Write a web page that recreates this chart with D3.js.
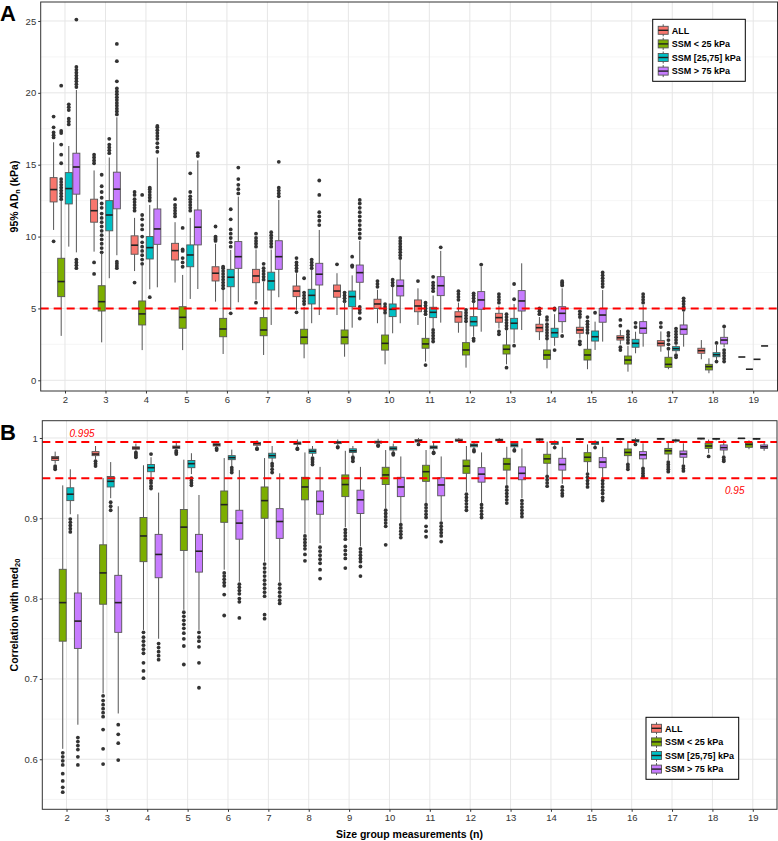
<!DOCTYPE html>
<html><head><meta charset="utf-8">
<script src="https://cdn.jsdelivr.net/npm/d3@7"></script>
<style>body{margin:0;background:#fff} svg{display:block;font-family:"Liberation Sans",Arial,Helvetica,sans-serif}</style>
</head><body><svg id="c" width="778" height="841"></svg>
<script>
// ---------------- DATA ----------------
const sizes = [2,3,4,5,6,7,8,9,10,11,12,13,14,15,16,17,18,19];
const groups = ["ALL","SSM < 25 kPa","SSM [25,75] kPa","SSM > 75 kPa"];
const groupColors = ["#F8766D","#7CAE00","#00BFC4","#C77CFF"];

const adTicks = [0,5,10,15,20,25];
const adTickLabels = ["0","5","10","15","20","25"];
const adMinorTicks = [2.5,7.5,12.5,17.5,22.5];
const adThresholds = [5];

const corTicks = [0.6,0.7,0.8,0.9,1];
const corTickLabels = ["0.6","0.7","0.8","0.9","1"];
const corMinorTicks = [0.55,0.65,0.75,0.85,0.95];
const corThresholds = [0.995,0.95];
const corThresholdLabels = ["0.995","0.95"];

// Panel A: 95% ADn (kPa) — [lower whisker, Q1, median, Q3, upper whisker]
const adAll = [
 [10.46,12.41,13.27,14.1,16.56],[8.95,11.0,11.8,12.6,14.6],[7.6,8.77,9.4,10.05,11.3],[6.8,8.37,9.02,9.53,11.0],
 [5.47,6.91,7.45,7.9,9.5],[5.6,6.79,7.26,7.72,9.1],[4.9,5.82,6.21,6.56,7.45],[4.54,5.78,6.21,6.63,7.45],
 [3.97,5.0,5.31,5.64,6.3],[3.85,4.77,5.17,5.59,6.4],[3.31,4.04,4.43,4.77,5.4],[3.6,4.04,4.36,4.66,5.2],
 [2.8,3.38,3.66,3.9,4.4],[2.9,3.27,3.5,3.69,4.3],[2.5,2.8,2.96,3.1,3.5],[1.99,2.39,2.57,2.76,3.4],
 [1.46,1.88,2.06,2.23,2.8],[1.62,1.62,1.62,1.62,1.62]];
const adAllOut = [
 [9.67,16.9,17.05,17.24,17.6,18.35],[7.4,8.2,15.1,15.3,15.5,15.7],[6.8,11.8,12.0,12.2,12.4,12.6,12.9,13.1],[11.4,11.6,11.8,12.0,12.2,12.6],
 [9.7,9.8,9.9,10.0,10.7],[5.4,9.3,9.5,9.7,9.9,10.2],[4.73,7.6,7.8,8.0,8.2,8.5],[8.07],
 [6.5,6.7,6.9],[6.9],[5.6,5.8,6.0,6.2],[3.2,3.4,5.4,5.6,5.8,6.0],
 [4.6,4.8,5.0],[2.5,2.7,4.4,4.6,4.8],[2.1,2.3,3.8,4.2],[3.7,4.0],[],[]];

const adLow = [
 [3.09,5.82,6.87,8.49,12.5],[2.64,4.82,5.47,6.58,8.85],[2.1,3.85,4.62,5.52,8.0],[2.1,3.62,4.38,5.12,7.33],
 [1.83,3.03,3.57,4.31,6.28],[1.76,3.1,3.5,4.36,6.86],[1.53,2.53,3.0,3.55,5.12],[1.64,2.53,3.0,3.5,5.47],
 [1.11,2.1,2.57,3.15,4.54],[1.3,2.23,2.53,2.92,4.4],[0.88,1.76,2.11,2.62,3.97],[1.11,1.83,2.16,2.46,3.5],
 [0.83,1.46,1.76,2.11,2.8],[0.77,1.41,1.76,2.16,3.2],[0.6,1.13,1.41,1.69,2.4],[0.77,0.9,1.11,1.6,2.1],
 [0.49,0.72,0.95,1.11,1.53],[0.77,0.77,0.77,0.77,0.77]];
const adLowOut = [
 [12.6,12.8,13.0,13.2,13.4,13.6,13.8,14.0,15.1,15.7,16.4,17.2,17.35,20.5],
 [8.9,9.2,9.5,9.8,10.1,10.4,10.7,11.0,11.3,11.6,12.0,12.3,12.7,13.1,13.5,14.3],
 [8.1,8.4,8.7,9.0,9.3,9.6,10.0,10.5,10.8,11.2,11.5,12.9],[7.9,8.2,8.5,9.0,9.1,10.6],
 [6.4,6.6,6.8,7.0,7.2,7.4,7.6,7.8,7.9],[7.0,7.2,7.4,7.6,7.8,8.1],[5.3,5.5,5.7,5.9,6.1,7.1],[5.5,5.7,5.9,6.1],
 [4.7,4.9,5.1,5.3],[1.06,4.6,4.8,5.0,5.2,5.4],[4.1,4.3,4.5,4.7,4.9],[0.88,3.6,3.8,4.0,4.2,4.4,4.6],
 [2.9,3.1,3.3,3.5,3.7,3.9,4.2,4.4],[3.3,3.5,3.7,3.9,4.1,4.4],[2.6,2.8,3.0,3.2,3.4],[2.2,2.5,2.8,3.1,3.3],[],[]];

const adMid = [
 [9.3,12.27,13.34,14.45,16.3],[7.1,10.4,11.5,12.5,15.5],[6.33,8.44,9.23,10.0,12.2],[5.66,7.9,8.72,9.42,11.3],
 [4.89,6.51,7.17,7.72,9.07],[3.85,6.28,6.91,7.52,9.1],[3.97,5.31,5.91,6.33,7.68],[3.66,5.12,5.82,6.21,7.3],
 [3.27,4.43,4.94,5.31,6.51],[3.6,4.36,4.73,5.08,5.9],[3.03,3.78,4.08,4.43,5.4],[2.6,3.57,3.97,4.31,5.3],
 [2.4,2.99,3.31,3.62,4.6],[2.11,2.73,3.03,3.43,4.08],[1.88,2.3,2.57,2.85,3.38],[1.9,2.06,2.2,2.34,2.5],
 [1.4,1.64,1.78,1.92,2.46],[1.46,1.46,1.46,1.46,1.46]];
const adMidOut = [
 [17.8,18.0,18.2,18.8,19.0,19.2],[15.8,16.0,16.2,16.4,16.8],[5.78,12.5,12.7,12.9,13.1,13.3,13.4],[11.8,12.0,12.2,12.4,12.6,12.8,13.1,14.4],
 [4.66,9.3,9.6,9.9,10.2,10.5,11.2,11.9],[9.3,9.5,9.7,9.9,10.1,10.3],[7.8,8.0,8.2,8.4],[7.9,8.0,8.6],
 [6.6,6.8,7.0],[2.7,2.9,3.1,3.3,3.5,6.2,6.4,6.6,6.8,7.2],[2.75,2.9,5.5,5.7,5.9,6.05],[2.41,5.64,6.7],
 [2.1,4.9,5.0],[4.7],[3.7,4.0],[1.6,1.75,2.6,2.8,3.0,3.2,3.4,3.6],[1.3,2.6],[]];

const adHigh = [
 [8.9,12.95,14.84,15.8,20.2],[8.7,11.93,13.3,14.48,18.3],[6.47,9.46,10.53,11.92,15.5],[6.35,9.42,10.65,11.85,15.3],
 [5.43,7.79,8.6,9.65,12.78],[5.78,7.72,8.6,9.71,12.55],[4.54,6.63,7.38,8.14,10.46],[5.6,6.82,7.49,8.02,9.7],
 [3.97,5.87,6.56,6.98,8.37],[4.01,5.89,6.58,7.21,9.0],[3.38,4.94,5.59,6.17,7.9],[3.5,4.82,5.52,6.24,8.14],
 [3.3,4.08,4.66,5.12,6.4],[2.69,4.04,4.54,5.0,6.28],[2.34,3.27,3.62,4.08,5.24],[2.34,3.2,3.55,3.85,4.77],
 [2.3,2.53,2.8,2.99,3.62],[2.39,2.39,2.39,2.39,2.39]];
const adHighOut = [
 [7.8,8.0,8.2,8.4,20.4,20.6,20.8,21.0,21.2,21.4,21.6,21.8,25.1],
 [7.8,7.95,8.1,8.25,18.5,18.7,18.9,19.1,19.3,19.5,19.7,19.9,20.1,20.3,20.8,22.2,23.4],
 [15.9,16.2,16.5,16.8,17.0,17.2,17.4,17.6,17.7],[15.6,15.8],
 [13.0,13.3,13.6,14.0,14.8],[12.8,13.0,13.2,13.4,15.2],[10.8,11.1,11.4,11.7,12.9,13.9],
 [4.3,4.7,4.9,5.1,9.9,10.2,10.5,10.8,11.1,11.4,11.7,12.0,12.3,12.55],
 [8.5,8.7,8.9,9.1,9.3,9.5,9.7,9.9],[9.25],[8.05],[],
 [3.08,6.6,6.7,6.8,6.9],[6.5,6.7,6.9,7.1,7.3,7.5],[5.4,5.6,5.8,6.0],[4.9,5.1,5.3,5.5,5.7],[1.3,1.5,1.7,1.9,2.1,3.75],[]];

// Panel B: correlation with med20 — [lower whisker, Q1, median, Q3, upper whisker]
const corAll = [
 [0.968,0.972,0.975,0.977,0.983],[0.973,0.978,0.980,0.983,0.990],[0.984,0.986,0.9875,0.989,0.993],[0.985,0.987,0.9885,0.990,0.995],
 [0.988,0.990,0.9915,0.993,0.996],[0.988,0.991,0.993,0.9945,0.997],[0.989,0.992,0.9935,0.995,0.998],[0.990,0.993,0.9945,0.9955,0.998],
 [0.992,0.9935,0.995,0.996,0.999],[0.993,0.995,0.9965,0.998,1.0],[0.994,0.996,0.997,0.9985,1.0],[0.995,0.9965,0.9975,0.9985,1.0],
 [0.996,0.9975,0.998,0.999,1.0],[0.997,0.998,0.9985,0.9992,1.0],[0.997,0.998,0.9988,0.9994,1.0],[0.998,0.9985,0.999,0.9995,1.0],
 [0.998,0.9988,0.9993,0.9997,1.0],[0.9993,0.9994,0.9995,0.9996,0.9997]];
const corAllOut = [
 [0.961,0.963,0.965],[0.965,0.968,0.971],[0.976,0.978,0.980,0.982],[0.980,0.982,0.984],
 [0.985,0.987],[0.986,0.987],[0.986,0.987],[0.988,0.989],[0.990,0.991],[0.992],[],[],[],[],[],[],[],[]];

const corLow = [
 [0.613,0.747,0.795,0.8365,0.941],[0.682,0.793,0.832,0.867,0.950],[0.761,0.846,0.878,0.901,0.966],[0.786,0.860,0.889,0.911,0.973],
 [0.836,0.895,0.917,0.934,0.975],[0.846,0.900,0.922,0.939,0.975],[0.881,0.923,0.939,0.951,0.982],[0.889,0.927,0.942,0.954,0.984],
 [0.9125,0.942,0.954,0.9635,0.985],[0.919,0.946,0.958,0.966,0.985],[0.933,0.956,0.965,0.9725,0.990],[0.941,0.960,0.9676,0.9747,0.989],
 [0.954,0.9685,0.974,0.9797,0.9954],[0.956,0.9705,0.976,0.9817,0.992],[0.9685,0.978,0.982,0.9863,0.9954],[0.9726,0.980,0.984,0.987,0.996],
 [0.981,0.987,0.990,0.9934,0.998],[0.986,0.9884,0.992,0.9942,0.997]];
const corLowOut = [
 [0.608,0.603,0.598,0.593,0.582,0.573,0.565,0.559],[0.679,0.673,0.668,0.663,0.658,0.653,0.637,0.613,0.594],
 [0.758,0.752,0.747,0.742,0.737,0.732,0.72,0.71,0.701],[0.783,0.778,0.773,0.768,0.763,0.757,0.75,0.741,0.718],
 [0.832,0.828,0.824,0.82,0.816,0.805,0.779],[0.843,0.838,0.833,0.828,0.823,0.818,0.813,0.808,0.803,0.78,0.775],
 [0.878,0.874,0.87,0.866,0.862,0.855,0.847],[0.886,0.882,0.878,0.874,0.865,0.86,0.855,0.85,0.838],
 [0.91,0.906,0.902,0.898,0.894,0.89,0.867],[0.917,0.913,0.909,0.905,0.901,0.89,0.884,0.877],
 [0.93,0.926,0.922,0.918,0.914,0.91],[0.939,0.935,0.931,0.927,0.923,0.919],
 [0.952,0.948,0.944,0.94],[0.955,0.951,0.947,0.943,0.939],[0.967,0.964,0.961],[0.97,0.967,0.964,0.961,0.958],[0.977],[]];

const corMid = [
 [0.905,0.922,0.930,0.938,0.961],[0.925,0.939,0.946,0.952,0.970],[0.950,0.958,0.963,0.967,0.976],[0.955,0.963,0.968,0.972,0.981],
 [0.965,0.973,0.9755,0.978,0.9855],[0.970,0.975,0.978,0.981,0.990],[0.977,0.981,0.9835,0.986,0.990],[0.978,0.982,0.984,0.9865,0.990],
 [0.983,0.985,0.987,0.989,0.993],[0.984,0.9867,0.9885,0.990,0.994],[0.986,0.989,0.991,0.9925,0.995],[0.986,0.989,0.991,0.9933,0.995],
 [0.990,0.992,0.994,0.9954,0.997],[0.990,0.992,0.994,0.9954,0.997],[0.993,0.995,0.9965,0.998,1.0],[0.994,0.996,0.997,0.9975,0.999],
 [0.997,0.9985,0.999,0.9995,1.0],[0.9975,0.9985,0.999,0.9995,1.0]];
const corMidOut = [
 [0.883,0.887,0.891,0.895,0.899],[0.91,0.915,0.92],[0.937,0.94,0.944,0.947,0.980],[0.941,0.944,0.947,0.950],
 [0.957,0.96,0.963],[0.957,0.961,0.965,0.968],[0.967,0.970,0.973,0.975],[0.971,0.974,0.976],
 [0.979,0.981],[0.981,0.982],[0.983,0.985],[0.984,0.985],[0.988],[0.988],[0.992],[],[],[]];

const corHigh = [
 [0.643,0.738,0.772,0.807,0.905],[0.657,0.758,0.795,0.829,0.915],[0.750,0.826,0.855,0.880,0.932],[0.761,0.833,0.859,0.880,0.929],
 [0.821,0.874,0.894,0.910,0.960],[0.821,0.875,0.896,0.912,0.956],[0.869,0.905,0.921,0.934,0.964],[0.865,0.906,0.923,0.935,0.964],
 [0.894,0.927,0.939,0.951,0.977],[0.896,0.928,0.9415,0.9505,0.977],[0.919,0.945,0.955,0.963,0.982],[0.925,0.948,0.956,0.964,0.987],
 [0.943,0.960,0.967,0.9747,0.989],[0.950,0.963,0.970,0.9755,0.989],[0.964,0.974,0.979,0.983,0.9934],[0.967,0.976,0.980,0.9838,0.9934],
 [0.979,0.985,0.988,0.9913,0.9975],[0.984,0.987,0.989,0.9913,0.995]];
const corHighOut = [
 [0.627,0.622,0.617,0.612,0.603,0.593],[0.643,0.631,0.620,0.599],[0.744,0.739,0.734,0.729,0.724],[0.758,0.752,0.747,0.74,0.72,0.689],
 [0.818,0.814,0.81,0.806,0.80,0.796,0.776],[0.818,0.813,0.808,0.803,0.798,0.794],[0.864,0.859,0.854,0.849,0.844,0.836,0.825],
 [0.862,0.858,0.854,0.85,0.846,0.84,0.828],[0.892,0.888,0.884,0.88,0.876],[0.894,0.89,0.886,0.882,0.878,0.871],
 [0.917,0.913,0.909,0.905,0.901],[0.922,0.918,0.914,0.91,0.906,0.902],[0.939,0.935,0.931,0.928],
 [0.947,0.943,0.939,0.935,0.931,0.926,0.922],[0.962,0.959,0.956,0.953,0.951],[0.965,0.962,0.959],[0.976,0.973,0.971],[]];

// ---------------- DRAWING ----------------
const svg = d3.select("#c");
const FONT = '"Liberation Sans",Arial,Helvetica,sans-serif';

function drawPanel(o){
  const g = svg.append("g");
  const x = d3.scalePoint().domain(sizes).range([o.left, o.right]).padding(0.6);
  const y = d3.scaleLinear().domain(o.domain).range([o.bottom, o.top]);
  g.append("rect").attr("x",o.left).attr("y",o.top).attr("width",o.right-o.left).attr("height",o.bottom-o.top).attr("fill","#fff");
  g.selectAll(".mg").data(o.minor).join("line")
    .attr("x1",o.left).attr("x2",o.right).attr("y1",d=>y(d)).attr("y2",d=>y(d))
    .attr("stroke","#f0f0f0").attr("stroke-width",0.7);
  g.selectAll(".hg").data(o.ticks).join("line")
    .attr("x1",o.left).attr("x2",o.right).attr("y1",d=>y(d)).attr("y2",d=>y(d))
    .attr("stroke","#e6e6e6").attr("stroke-width",1);
  g.selectAll(".vg").data(sizes).join("line")
    .attr("x1",d=>x(d)).attr("x2",d=>x(d)).attr("y1",o.top).attr("y2",o.bottom)
    .attr("stroke","#e6e6e6").attr("stroke-width",1);

  const bw = x.step()*0.75/4;
  sizes.forEach((n,i)=>{
    o.stats.forEach((arr,gi)=>{
      const s = arr[i]; if(!s) return;
      const xc = x(n) + (gi-1.5)*bw;
      const bx = g.append("g");
      bx.selectAll("circle").data(o.outs[gi][i]).join("circle")
        .attr("cx",xc).attr("cy",d=>y(d)).attr("r",1.9).attr("fill","#333");
      bx.append("line").attr("x1",xc).attr("x2",xc).attr("y1",y(s[0])).attr("y2",y(s[1])).attr("stroke","#555").attr("stroke-width",1);
      bx.append("line").attr("x1",xc).attr("x2",xc).attr("y1",y(s[3])).attr("y2",y(s[4])).attr("stroke","#555").attr("stroke-width",1);
      bx.append("rect").attr("x",xc-bw/2+0.3).attr("width",bw-0.6)
        .attr("y",y(s[3])).attr("height",Math.max(0,y(s[1])-y(s[3])))
        .attr("fill",groupColors[gi]).attr("stroke","#555").attr("stroke-width",0.9);
      bx.append("line").attr("x1",xc-bw/2+0.3).attr("x2",xc+bw/2-0.3).attr("y1",y(s[2])).attr("y2",y(s[2]))
        .attr("stroke","#222").attr("stroke-width",1.6);
    });
  });

  g.selectAll(".th").data(o.thresholds).join("line")
    .attr("x1",o.left).attr("x2",o.right).attr("y1",d=>y(d)).attr("y2",d=>y(d))
    .attr("stroke","#ff0000").attr("stroke-width",2).attr("stroke-dasharray","8,5");

  g.append("rect").attr("x",o.left).attr("y",o.top).attr("width",o.right-o.left).attr("height",o.bottom-o.top)
    .attr("fill","none").attr("stroke","#333").attr("stroke-width",1);

  const ya = g.append("g").attr("transform",`translate(${o.left},0)`)
    .call(d3.axisLeft(y).tickValues(o.ticks).tickSize(2.5).tickPadding(2).tickFormat((d,i)=>o.tickLabels[i]));
  ya.select(".domain").remove();
  ya.attr("font-family",FONT).attr("font-size",9.5);
  ya.selectAll("text").attr("fill","#333");
  ya.selectAll("line").attr("stroke","#333");

  const xa = g.append("g").attr("transform",`translate(0,${o.bottom})`)
    .call(d3.axisBottom(x).tickSize(2.5).tickPadding(2.5));
  xa.select(".domain").remove();
  xa.attr("font-family",FONT).attr("font-size",9.5);
  xa.selectAll("text").attr("fill","#333");
  xa.selectAll("line").attr("stroke","#333");

  // legend
  const L = o.legend;
  g.append("rect").attr("x",L.x).attr("y",L.y).attr("width",L.w).attr("height",L.h)
    .attr("fill","#fff").attr("stroke","#000").attr("stroke-width",1);
  groups.forEach((name,gi)=>{
    const cy = L.y + 11 + gi*13.6, kx = L.x + 5.5;
    g.append("line").attr("x1",kx+5).attr("x2",kx+5).attr("y1",cy-6).attr("y2",cy+6).attr("stroke","#555");
    g.append("rect").attr("x",kx).attr("y",cy-4).attr("width",10).attr("height",8)
      .attr("fill",groupColors[gi]).attr("stroke","#555").attr("stroke-width",0.9);
    g.append("line").attr("x1",kx).attr("x2",kx+10).attr("y1",cy).attr("y2",cy).attr("stroke","#222").attr("stroke-width",1.4);
    g.append("text").attr("x",kx+13.5).attr("y",cy+3.3).attr("font-family",FONT).attr("font-size",9)
      .attr("font-weight","bold").attr("fill","#000").text(name);
  });
  return {x,y};
}

const A = drawPanel({left:40.7,right:777.5,top:2,bottom:391,domain:[-0.745,26.32],
  ticks:adTicks,tickLabels:adTickLabels,minor:adMinorTicks,thresholds:adThresholds,
  stats:[adAll,adLow,adMid,adHigh],outs:[adAllOut,adLowOut,adMidOut,adHighOut],
  legend:{x:652.7,y:19.3,w:92.6,h:62}});

const B = drawPanel({left:42.3,right:777,top:420.7,bottom:809.3,domain:[0.5377,1.0215],
  ticks:corTicks,tickLabels:corTickLabels,minor:corMinorTicks,thresholds:corThresholds,
  stats:[corAll,corLow,corMid,corHigh],outs:[corAllOut,corLowOut,corMidOut,corHighOut],
  legend:{x:646,y:717.3,w:92.7,h:62}});

// threshold labels in B
svg.append("text").attr("x",69.5).attr("y",436.5).attr("font-family",FONT).attr("font-size",10)
  .attr("font-style","italic").attr("fill","#ff0000").text(corThresholdLabels[0]);
svg.append("text").attr("x",725).attr("y",494).attr("font-family",FONT).attr("font-size",10)
  .attr("font-style","italic").attr("fill","#ff0000").text(corThresholdLabels[1]);

// panel letters
svg.append("text").attr("x",0).attr("y",21).attr("font-family",FONT).attr("font-size",22).attr("font-weight","bold").text("A");
svg.append("text").attr("x",0).attr("y",440).attr("font-family",FONT).attr("font-size",22).attr("font-weight","bold").text("B");

// axis titles
const tA = svg.append("text").attr("transform","translate(17.5,196.5) rotate(-90)").attr("text-anchor","middle")
  .attr("font-family",FONT).attr("font-size",10.5).attr("font-weight","bold").attr("fill","#000");
tA.append("tspan").text("95% AD");
tA.append("tspan").attr("font-size",7.5).attr("dy",2).text("n");
tA.append("tspan").attr("dy",-2).text(" (kPa)");

const tB = svg.append("text").attr("transform","translate(17.5,615) rotate(-90)").attr("text-anchor","middle")
  .attr("font-family",FONT).attr("font-size",10.5).attr("font-weight","bold").attr("fill","#000");
tB.append("tspan").text("Correlation with med");
tB.append("tspan").attr("font-size",7.5).attr("dy",2).text("20");

svg.append("text").attr("x",409.5).attr("y",837.5).attr("text-anchor","middle")
  .attr("font-family",FONT).attr("font-size",10.5).attr("font-weight","bold").attr("fill","#000")
  .text("Size group measurements (n)");
</script></body></html>
